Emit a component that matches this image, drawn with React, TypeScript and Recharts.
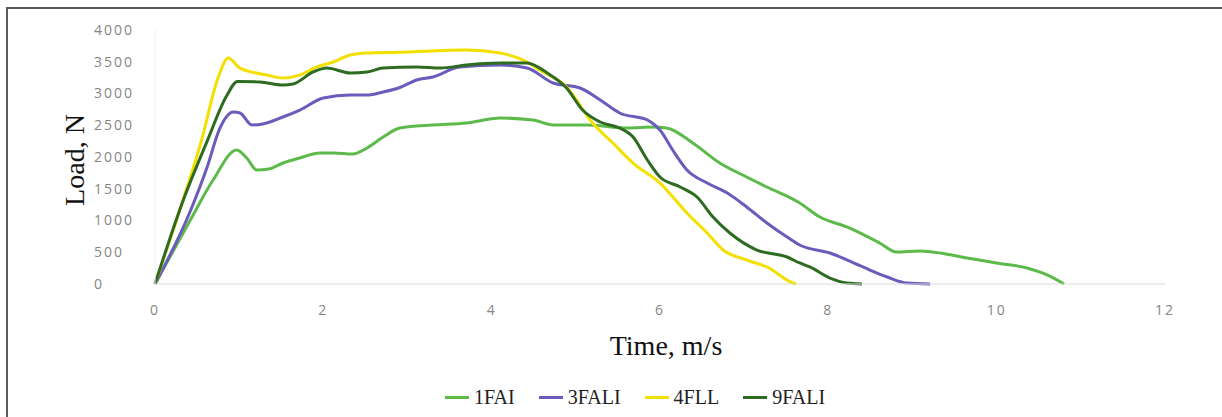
import { LineChart, Line, XAxis, YAxis, Legend } from 'recharts'

// Load vs time per specimen
const fai1X = [0, 0.42, 0.69, 0.97, 1.09, 1.21, 1.35, 1.52, 1.72, 1.96, 2.12, 2.35, 2.52, 2.71, 2.91, 3.3, 3.7, 4.1, 4.49, 4.73, 5.13, 5.61, 5.92, 6.08, 6.39, 6.71, 7.03, 7.27, 7.66, 7.9, 8.22, 8.61, 8.81, 9.09, 9.33, 9.65, 10.0, 10.36, 10.6, 10.8]
const fai1Y = [0, 1008, 1638, 2110, 1984, 1795, 1810, 1905, 1984, 2063, 2063, 2047, 2142, 2315, 2457, 2504, 2535, 2614, 2583, 2504, 2504, 2457, 2472, 2457, 2220, 1905, 1685, 1528, 1276, 1055, 898, 646, 504, 520, 488, 409, 331, 252, 142, 0]

const fali3X = [0, 0.42, 0.62, 0.77, 0.93, 1.01, 1.15, 1.28, 1.52, 1.72, 2.0, 2.32, 2.52, 2.71, 2.91, 3.11, 3.3, 3.62, 4.1, 4.42, 4.73, 5.05, 5.29, 5.52, 5.85, 6.0, 6.15, 6.32, 6.56, 6.8, 7.03, 7.27, 7.51, 7.66, 8.02, 8.41, 8.7, 8.93, 9.21]
const fali3Y = [0, 1150, 1843, 2450, 2709, 2693, 2504, 2520, 2630, 2740, 2929, 2976, 2976, 3024, 3095, 3213, 3260, 3417, 3449, 3401, 3165, 3087, 2898, 2693, 2583, 2425, 2110, 1795, 1590, 1433, 1213, 961, 740, 614, 488, 268, 110, 16, 0]

const fll4X = [0, 0.33, 0.55, 0.75, 0.87, 1.01, 1.33, 1.52, 1.72, 1.92, 2.12, 2.32, 2.52, 2.91, 3.7, 4.1, 4.42, 4.57, 4.89, 5.2, 5.44, 5.68, 6.0, 6.32, 6.56, 6.75, 7.03, 7.27, 7.58, 7.62]
const fll4Y = [0, 1310, 2250, 3250, 3560, 3400, 3291, 3244, 3290, 3417, 3496, 3606, 3638, 3650, 3685, 3638, 3496, 3370, 3102, 2535, 2220, 1905, 1590, 1118, 803, 535, 378, 268, 16, 0]

const fali9X = [0, 0.33, 0.62, 0.85, 0.98, 1.25, 1.52, 1.64, 1.88, 2.04, 2.32, 2.52, 2.71, 3.11, 3.39, 3.7, 4.1, 4.42, 4.66, 4.89, 5.08, 5.29, 5.52, 5.68, 5.85, 6.0, 6.24, 6.44, 6.63, 6.83, 7.15, 7.51, 7.66, 7.78, 8.02, 8.22, 8.4]
const fali9Y = [0, 1300, 2250, 2960, 3190, 3181, 3134, 3150, 3339, 3401, 3323, 3339, 3401, 3417, 3401, 3449, 3480, 3480, 3323, 3087, 2740, 2551, 2457, 2315, 1953, 1685, 1528, 1370, 1055, 803, 535, 425, 331, 268, 94, 16, 0]

const xTicks = [0, 2, 4, 6, 8, 10, 12]
const yTicks = [0, 500, 1000, 1500, 2000, 2500, 3000, 3500, 4000]

const zip = (xs: number[], ys: number[]) => xs.map((x, i) => ({ x, y: ys[i] }))

const series = [
  { name: '1FAI', color: '#5cba4b', data: zip(fai1X, fai1Y) },
  { name: '3FALI', color: '#6a5cbc', data: zip(fali3X, fali3Y) },
  { name: '4FLL', color: '#f3e000', data: zip(fll4X, fll4Y) },
  { name: '9FALI', color: '#2d6b20', data: zip(fali9X, fali9Y) },
]

const tickStyle = { fill: '#858585', fontSize: 14, fontFamily: 'Open Sans', letterSpacing: 2 }

function LegendRow() {
  return (
    <div style={{ display: 'flex', justifyContent: 'center', gap: 24, paddingLeft: 48, fontFamily: '"Liberation Serif", serif', fontSize: 20, color: '#222' }}>
      {series.map((s) => (
        <div key={s.name} style={{ display: 'flex', alignItems: 'center' }}>
          <span style={{ display: 'inline-block', width: 24, height: 3, background: s.color, marginRight: 5 }} />
          <span>{s.name}</span>
        </div>
      ))}
    </div>
  )
}

export default function App() {
  return (
    <div style={{ position: 'absolute', left: 0, top: 0, width: 1222, height: 417, overflow: 'hidden', background: '#fff' }}>
      <div style={{ position: 'absolute', left: 6, top: 7, width: 1400, height: 600, border: '2px solid #5a5a5a' }} />
      <div style={{ position: 'absolute', left: 0, top: 0 }}>
        <LineChart width={1222} height={417} margin={{ top: 30, right: 57, left: 95, bottom: 103 }}>
          <XAxis
            type="number"
            dataKey="x"
            domain={[0, 12]}
            ticks={xTicks}
            axisLine={{ stroke: '#dcdcdc' }}
            tickLine={false}
            tickMargin={15}
            height={30}
            tick={tickStyle}
          />
          <YAxis
            type="number"
            domain={[0, 4000]}
            ticks={yTicks}
            axisLine={{ stroke: '#eeeeee' }}
            tickLine={false}
            tickMargin={55}
            width={60}
            tick={{ ...tickStyle, textAnchor: 'start' }}
          />
          <Legend
            verticalAlign="middle"
            align="center"
            layout="horizontal"
            wrapperStyle={{ top: 386, left: 0, width: 1222 }}
            content={<LegendRow />}
          />
          {series.map((s) => (
            <Line
              key={s.name}
              data={s.data}
              dataKey="y"
              name={s.name}
              type="monotone"
              stroke={s.color}
              strokeWidth={3}
              dot={false}
              activeDot={false}
              isAnimationActive={false}
            />
          ))}
        </LineChart>
      </div>
      <div style={{ position: 'absolute', left: 75, top: 160, transform: 'translate(-50%, -50%) rotate(-90deg)', fontFamily: '"Liberation Serif", serif', fontSize: 28, color: '#111', whiteSpace: 'nowrap' }}>
        Load, N
      </div>
      <div style={{ position: 'absolute', left: 666, top: 346, transform: 'translate(-50%, -50%)', fontFamily: '"Liberation Serif", serif', fontSize: 28, color: '#111', whiteSpace: 'nowrap' }}>
        Time, m/s
      </div>
    </div>
  )
}
